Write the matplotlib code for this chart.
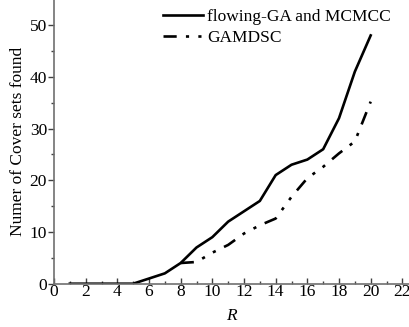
import matplotlib
matplotlib.use('Agg')
import matplotlib.pyplot as plt
from matplotlib.ticker import MultipleLocator

# data
r_flow = [1, 2, 3, 4, 5, 6, 7, 8, 9, 10, 11, 12, 13, 14, 15, 16, 17, 18, 19, 20]
flowing_ga = [0, 0, 0, 0, 0, 1, 2, 4, 7, 9, 12, 14, 16, 21, 23, 24, 26, 32, 41, 48]
r_gam = [8, 9, 10, 11, 12, 13, 14, 15, 16, 17, 18, 19, 20]
gamdsc = [4, 4.2, 6, 7.5, 9.7, 11.3, 12.6, 16.8, 20.4, 22.6, 25.2, 27.5, 35.2]

labels = ['flowing-GA and MCMCC', 'GAMDSC']
x_ticks = list(range(0, 24, 2))
y_ticks = [0, 10, 20, 30, 40, 50]

plt.rcParams['font.family'] = ['Liberation Serif', 'DejaVu Serif']
fs = 12.5

fig = plt.figure(figsize=(4.09, 3.27), dpi=100)
ax = fig.add_axes([54 / 409, (327 - 283.7) / 327, 1 - 54 / 409, 283.7 / 327])

ax.plot(r_flow, flowing_ga, color='black', linewidth=1.9, label=labels[0],
        solid_joinstyle='round')
line2, = ax.plot(r_gam, gamdsc, color='black', linewidth=1.9, label=labels[1])
line2.set_dashes([5, 3.5, 1.2, 3.5, 1.2, 3.5])

ax.set_xlim(0, 22.42)
ax.set_ylim(0, 54.85)
ax.set_xticks(x_ticks)
ax.set_yticks(y_ticks)
ax.xaxis.set_minor_locator(MultipleLocator(1))
ax.yaxis.set_minor_locator(MultipleLocator(5))

for s in ['top', 'right']:
    ax.spines[s].set_visible(False)
for s in ['left', 'bottom']:
    ax.spines[s].set_color('#707070')
    ax.spines[s].set_linewidth(1.2)

ax.tick_params(axis='x', which='major', direction='in', length=4, width=1, color='#404040',
               labelsize=fs, pad=0)
ax.tick_params(axis='x', which='minor', direction='in', length=2.5, width=1, color='#404040')
ax.tick_params(axis='y', which='major', direction='out', length=4, width=1, color='#404040',
               labelsize=fs, pad=1)
ax.tick_params(axis='y', which='minor', direction='out', length=2.5, width=1, color='#404040')

ax.set_xlabel('R', fontstyle='italic', fontsize=fs, labelpad=6)
ax.set_ylabel('Numer of Cover sets found', fontsize=fs, labelpad=3)

ax.legend(loc='upper left', bbox_to_anchor=(163 / 409, 1 - 9 / 327),
          bbox_transform=fig.transFigure, frameon=False, fontsize=fs,
          handlelength=2.3, handletextpad=0.25, labelspacing=0.25,
          borderaxespad=0, borderpad=0)

fig.savefig('out.png', dpi=100)
